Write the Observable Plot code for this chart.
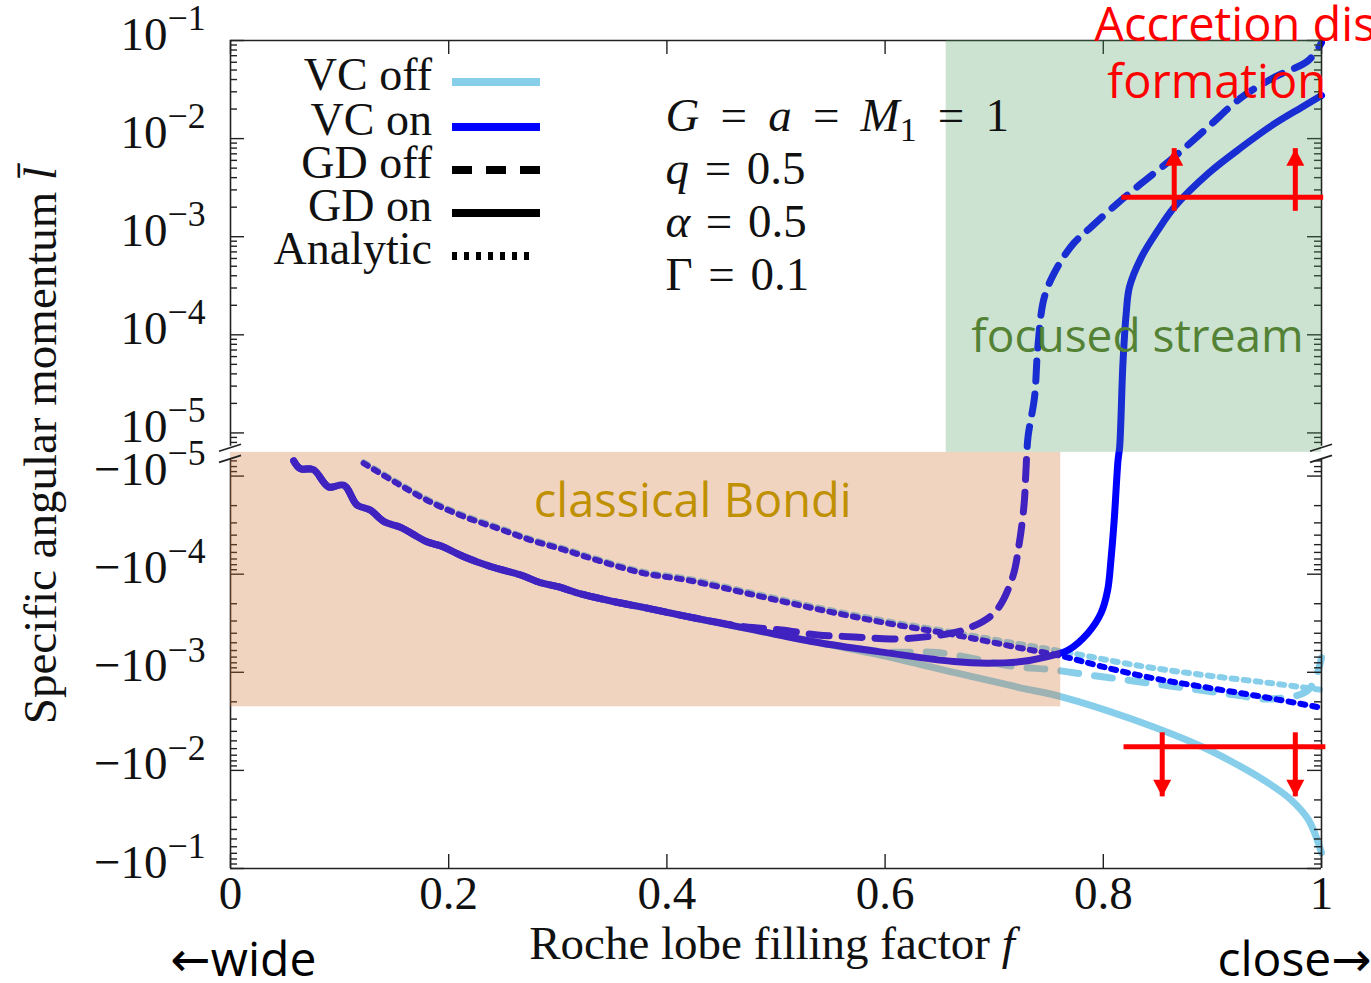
<!DOCTYPE html>
<html>
<head>
<meta charset="utf-8">
<script src="https://cdn.jsdelivr.net/npm/d3@7"></script>
<script src="https://cdn.jsdelivr.net/npm/@observablehq/plot@0.6"></script>
<style>
html,body{margin:0;padding:0;background:#fff;overflow:hidden}
#chart{width:1371px;height:983px;overflow:hidden;position:relative}
</style>
</head>
<body>
<div id="chart"></div>
<script>
// ---------------- data (f = Roche lobe filling factor, l = specific angular momentum) ----------------
const commonF = [0.058,0.064,0.076,0.090,0.104,0.116,0.128,0.141,0.156,0.180,0.193,0.214,0.239,0.266,0.284,0.300,0.321,0.352,0.382,0.419];
const commonL = [-7.0e-6,-8.4e-6,-8.6e-6,-1.29e-5,-1.24e-5,-1.97e-5,-2.22e-5,-2.92e-5,-3.33e-5,-4.67e-5,-5.16e-5,-6.64e-5,-8.4e-5,-1.02e-4,-1.22e-4,-1.34e-4,-1.59e-4,-1.91e-4,-2.22e-4,-2.71e-4];

// GD on, VC on (solid blue)
const gdOnVcOnF = [0.480,0.541,0.602,0.663,0.694,0.725,0.755,0.768,0.786,0.798,0.804,0.807,0.810,0.8135,0.815,0.818,0.821,0.824,0.835,0.850,0.865,0.896,0.927,0.957,0.982,1.000];
const gdOnVcOnL = [-3.70e-4,-5.02e-4,-6.34e-4,-7.78e-4,-8.07e-4,-7.78e-4,-6.65e-4,-5.92e-4,-3.97e-4,-2.48e-4,-1.45e-4,-7.2e-5,-2.81e-5,-6.9e-6,7.2e-6,5.1e-5,1.66e-4,3.08e-4,6.2e-4,1.16e-3,2.0e-3,4.4e-3,8.2e-3,1.42e-2,2.09e-2,2.75e-2];

// GD on, VC off (solid sky blue)
const gdOnVcOffF = [0.480,0.541,0.602,0.664,0.706,0.725,0.761,0.828,0.890,0.920,0.951,0.972,0.988,1.000];
const gdOnVcOffL = [-3.70e-4,-5.02e-4,-6.92e-4,-1.01e-3,-1.29e-3,-1.45e-3,-1.77e-3,-3.05e-3,-5.7e-3,-8.4e-3,-1.34e-2,-1.99e-2,-3.18e-2,-6.9e-2];

// GD off, VC on (dashed blue)
const gdOffVcOnF = [0.434,0.471,0.505,0.538,0.572,0.606,0.639,0.672,0.700,0.716,0.723,0.7275,0.729,0.731,0.737,0.740,0.746,0.758,0.773,0.789,0.813,0.835,0.865,0.896,0.927,0.957,0.988,1.000];
const gdOffVcOnL = [-2.92e-4,-3.43e-4,-3.70e-4,-4.16e-4,-4.36e-4,-4.57e-4,-4.33e-4,-3.70e-4,-2.48e-4,-1.15e-4,-4.81e-5,-1.88e-5,-9.3e-6,9.1e-6,2.33e-5,7.5e-5,2.43e-4,4.91e-4,8.6e-4,1.26e-3,2.19e-3,3.50e-3,6.5e-3,1.31e-2,2.65e-2,4.23e-2,6.25e-2,9.5e-2];

// GD off, VC off (dashed sky blue)
const gdOffVcOffF = [0.480,0.541,0.602,0.648,0.718,0.752,0.786,0.819,0.853,0.887,0.920,0.954,0.988,1.000];
const gdOffVcOffL = [-3.70e-4,-5.02e-4,-6.2e-4,-6.3e-4,-8.7e-4,-9.4e-4,-1.06e-3,-1.19e-3,-1.34e-3,-1.51e-3,-1.70e-3,-1.87e-3,-1.51e-3,-7.1e-4];

// Analytic, VC on (dotted blue)
const anaVcOnF = [0.122,0.153,0.183,0.214,0.245,0.275,0.306,0.336,0.379,0.419,0.480,0.541,0.602,0.664,0.725,0.764,0.798,0.844,0.890,0.951,1.000];
const anaVcOnL = [-7.4e-6,-1.19e-5,-1.83e-5,-2.59e-5,-3.41e-5,-4.49e-5,-5.66e-5,-7.2e-5,-9.8e-5,-1.15e-4,-1.63e-4,-2.31e-4,-3.16e-4,-4.16e-4,-5.69e-4,-6.92e-4,-8.7e-4,-1.14e-3,-1.40e-3,-1.82e-3,-2.30e-3];

// Analytic, VC off (dotted sky blue)
const anaVcOffF = [0.122,0.153,0.183,0.214,0.245,0.275,0.306,0.336,0.379,0.419,0.480,0.541,0.602,0.664,0.716,0.768,0.828,0.890,0.951,1.000];
const anaVcOffL = [-7.2e-6,-1.16e-5,-1.78e-5,-2.52e-5,-3.32e-5,-4.37e-5,-5.5e-5,-7.0e-5,-9.5e-5,-1.11e-4,-1.57e-4,-2.22e-4,-3.02e-4,-3.95e-4,-5.0e-4,-6.3e-4,-8.4e-4,-1.06e-3,-1.28e-3,-1.51e-3];

// shaded regimes
const streamRegionF = [0.656, 1.0];
const bondiRegionF = [0.0, 0.761];
const bondiRegionL = -2.25e-3;

// red threshold markers
const diskLineF = [0.817, 1.002], diskLineL = 2.52e-3, diskArrowF = [0.865, 0.976], diskArrowTipL = 7.9e-3;
const retroLineF = [0.819, 1.004], retroLineL = -5.75e-3, retroArrowF = [0.854, 0.976], retroArrowTipL = -1.86e-2;

// axes
const xTicks = [0, 0.2, 0.4, 0.6, 0.8, 1];
const xTickLabels = ["0", "0.2", "0.4", "0.6", "0.8", "1"];
const yMajor = [1e-1, 1e-2, 1e-3, 1e-4, 1e-5, -1e-5, -1e-4, -1e-3, -1e-2, -1e-1];
const yMajorLabels = ["10^{−1}","10^{−2}","10^{−3}","10^{−4}","10^{−5}","−10^{−5}","−10^{−4}","−10^{−3}","−10^{−2}","−10^{−1}"];
const posMin = 7.3e-6, negMin = -6.6e-6; // ends of the two broken axis pieces

const legendLabels = ["VC off", "VC on", "GD off", "GD on", "Analytic"];
const paramLines = ["*G*\u2009 = \u2009*a*\u2009 = \u2009*M*_{1}\u2009 = \u20091", "*q*\u200A = \u200A0.5", "*α*\u200A = \u200A0.5", "Γ\u200A = \u200A0.1"];

// ---------------- layout / style ----------------
const W = 1371, H = 983, ML = 230, MR = 50, MT = 40, MB = 115;
const PW = W - ML - MR, PH = H - MT - MB;
const SERIF = "'Liberation Serif','DejaVu Serif',serif";
const SANS = "'Open Sans','Noto Sans','DejaVu Sans',sans-serif";
const SKY = "#87CEEB", BLUE = "#0000FF", RED = "#FF0000";
const GAP = 0.44;
// broken log axis: positive decades on top, negative decades below
function yT(l) { return l > 0 ? Math.log10(l) : -10 - GAP - Math.log10(-l); }
const yBreak = (yT(posMin) + yT(negMin)) / 2;

const yMinor = [];
for (let d = -6; d <= -2; d++) for (let k = 2; k <= 9; k++) {
  const v = k * Math.pow(10, d);
  if (v > posMin && v < 0.1) yMinor.push(v);
  if (v > -negMin && v < 0.1) yMinor.push(-v);
}

const rows = (F, L) => F.map((f, i) => ({f, l: L[i]}));
const withCommon = (F, L) => rows([...commonF, ...F], [...commonL, ...L]);

function curve(data, stroke, dash, sw) {
  return Plot.line(data, {x: "f", y: d => yT(d.l), stroke, strokeWidth: sw, strokeDasharray: dash, strokeLinejoin: "round", curve: "catmull-rom"});
}

const tickStyle = {stroke: "#222", strokeWidth: 1.4};
const triUp = {draw(ctx) { ctx.moveTo(0, 0); ctx.lineTo(-9, 17); ctx.lineTo(9, 17); ctx.closePath(); }};
const triDown = {draw(ctx) { ctx.moveTo(0, 0); ctx.lineTo(-9, -17); ctx.lineTo(9, -17); ctx.closePath(); }};

const serifText = {fontFamily: SERIF, fontSize: 47, fill: "#111"};
const sans = (size, fill) => ({fontFamily: SANS, fontSize: size, fill});

const plot = Plot.plot({
  width: W, height: H,
  marginLeft: ML, marginRight: MR, marginTop: MT, marginBottom: MB,
  style: {background: "#fff", overflow: "hidden"},
  x: {domain: [0, 1], axis: null},
  y: {domain: [yT(-0.1), yT(0.1)], axis: null},
  marks: [
    // curves (sky blue below, blue on top)
    curve(withCommon(gdOffVcOffF, gdOffVcOffL), SKY, "18,16", 7),
    curve(rows(anaVcOffF, anaVcOffL), SKY, "5,7", 6),
    curve(withCommon(gdOnVcOffF, gdOnVcOffL), SKY, null, 7),
    curve(withCommon(gdOffVcOnF, gdOffVcOnL), BLUE, "20,13", 7),
    curve(rows(anaVcOnF, anaVcOnL), BLUE, "5,7", 6),
    curve(withCommon(gdOnVcOnF, gdOnVcOnL), BLUE, null, 7),
    // frame pieces (broken axis)
    Plot.ruleY([0.1, -0.1], {y: yT, stroke: "#222", strokeWidth: 1.6}),
    Plot.ruleX([0, 1], {x: d => d, y1: yT(posMin), y2: yT(0.1), stroke: "#222", strokeWidth: 1.6}),
    Plot.ruleX([0, 1], {x: d => d, y1: yT(-0.1), y2: yT(negMin), stroke: "#222", strokeWidth: 1.6}),
    // ticks (inward)
    Plot.ruleY(yMajor, {y: yT, insetRight: PW - 14, ...tickStyle}),
    Plot.ruleY(yMinor, {y: yT, insetRight: PW - 7, ...tickStyle}),
    Plot.ruleY(yMajor, {y: yT, insetLeft: PW - 14, ...tickStyle}),
    Plot.ruleY(yMinor, {y: yT, insetLeft: PW - 7, ...tickStyle}),
    Plot.ruleX(xTicks, {x: d => d, insetBottom: PH - 14, ...tickStyle}),
    Plot.ruleX(xTicks, {x: d => d, insetTop: PH - 14, ...tickStyle}),
    // shaded regimes (translucent, on top of lines)
    Plot.rect([streamRegionF], {x1: d => d[0], x2: d => d[1], y1: yBreak, y2: yT(0.1), fill: "#52A064", fillOpacity: 0.29}),
    Plot.rect([bondiRegionF], {x1: d => d[0], x2: d => d[1], y1: yT(bondiRegionL), y2: yBreak, fill: "#D2702D", fillOpacity: 0.3}),
    // tick labels
    Plot.text(xTicks, {x: d => d, text: (d, i) => xTickLabels[i], frameAnchor: "bottom", dy: 40, lineAnchor: "bottom", ...serifText}),
    Plot.text(yMajor, {y: yT, text: (d, i) => yMajorLabels[i], frameAnchor: "left", dx: -25, dy: 9, textAnchor: "end", lineAnchor: "bottom", ...serifText}),
    // axis titles
    Plot.text(["Roche lobe filling factor *f*"], {frameAnchor: "bottom", dx: -4, dy: 90, lineAnchor: "bottom", textAnchor: "middle", ...serifText}),
    Plot.text(["Specific angular momentum *l̄*"], {frameAnchor: "left", dx: -190, dy: -9, rotate: -90, textAnchor: "middle", lineAnchor: "middle", ...serifText}),
    Plot.text(["←wide"], {frameAnchor: "bottom-left", dx: -60, dy: 107, textAnchor: "start", lineAnchor: "bottom", ...sans(48, "#000")}),
    Plot.text(["close→"], {frameAnchor: "bottom-right", dx: 50, dy: 107, textAnchor: "end", lineAnchor: "bottom", ...sans(48, "#000")}),
    // parameters
    ...paramLines.map((t, i) => Plot.text([t], {frameAnchor: "top-left", dx: 435, dy: 90 + 53 * i, textAnchor: "start", lineAnchor: "bottom", ...serifText})),
    // regime labels
    Plot.text(["classical Bondi"], {x: 0.278, y: yT(-2.61e-5), textAnchor: "start", lineAnchor: "bottom", ...sans(47, "#BF9000")}),
    Plot.text(["focused stream"], {x: 0.679, y: yT(6.65e-5), textAnchor: "start", lineAnchor: "bottom", ...sans(46, "#548235")}),
    Plot.text(["Accretion disk"], {x: 0.7917, y: yT(0.1), textAnchor: "start", lineAnchor: "bottom", ...sans(47, RED)}),
    Plot.text(["formation"], {x: 0.8037, y: yT(2.57e-2), textAnchor: "start", lineAnchor: "bottom", ...sans(47, RED)}),
    // red threshold markers
    Plot.ruleY([diskLineL], {y: yT, x1: diskLineF[0], x2: diskLineF[1], stroke: RED, strokeWidth: 5}),
    Plot.ruleX(diskArrowF, {x: d => d, y1: yT(diskLineL), y2: yT(diskArrowTipL), insetTop: 14, stroke: RED, strokeWidth: 5}),
    Plot.dot(diskArrowF, {x: d => d, y: yT(diskArrowTipL), symbol: triUp, r: 8, fill: RED, stroke: "none"}),
    Plot.ruleY([retroLineL], {y: yT, x1: retroLineF[0], x2: retroLineF[1], stroke: RED, strokeWidth: 5}),
    Plot.ruleX(retroArrowF, {x: d => d, y1: yT(retroArrowTipL), y2: yT(retroLineL), insetBottom: 14, stroke: RED, strokeWidth: 5}),
    Plot.dot(retroArrowF, {x: d => d, y: yT(retroArrowTipL), symbol: triDown, r: 8, fill: RED, stroke: "none"})
  ]
});

document.getElementById("chart").appendChild(plot);

// ---- legend and axis-break marks, placed with the plot's own scales ----
const sx = plot.scale("x").apply, sy = plot.scale("y").apply;
const svg = d3.select(plot);
const lg = svg.append("g");
const legendStyles = [
  {stroke: SKY, dash: null}, {stroke: BLUE, dash: null}, {stroke: "#000", dash: "20,14"},
  {stroke: "#000", dash: null}, {stroke: "#000", dash: "5,7"}
];
const legendBase = [90, 135, 178, 221, 264];
legendLabels.forEach((lab, i) => {
  lg.append("text").attr("x", ML + 202).attr("y", legendBase[i]).attr("text-anchor", "end")
    .attr("font-family", SERIF).attr("font-size", 46).attr("fill", "#111").text(lab);
  lg.append("line").attr("x1", ML + 222).attr("x2", ML + (i === 4 ? 306 : 310))
    .attr("y1", legendBase[i] - 8).attr("y2", legendBase[i] - 8)
    .attr("stroke", legendStyles[i].stroke).attr("stroke-width", 8)
    .attr("stroke-dasharray", legendStyles[i].dash);
});
const bg = svg.append("g").attr("stroke", "#222").attr("stroke-width", 1.6);
[sx(0), sx(1)].forEach(x0 => {
  [sy(yT(posMin)) + 2, sy(yT(negMin)) + 1].forEach(yy => {
    bg.append("line").attr("x1", x0 - 11).attr("x2", x0 + 11).attr("y1", yy + 3.5).attr("y2", yy - 3.5);
  });
});

// ---- rich text: *italic*, ^{sup}, _{sub} ----
plot.querySelectorAll("text").forEach(t => {
  const s = t.textContent;
  if (!/[\^_*]/.test(s)) return;
  const fs = parseFloat(getComputedStyle(t).fontSize) || 47;
  while (t.firstChild) t.removeChild(t.firstChild);
  const re = /\^\{([^}]*)\}|_\{([^}]*)\}|\*([^*]*)\*|([^\^_*]+)/g;
  let m, cur = 0;
  while ((m = re.exec(s))) {
    const ts = document.createElementNS("http://www.w3.org/2000/svg", "tspan");
    let target = 0, txt, size = null, italic = false;
    if (m[1] !== undefined) { txt = m[1]; target = -0.42 * fs; size = 0.76 * fs; }
    else if (m[2] !== undefined) { txt = m[2]; target = 0.22 * fs; size = 0.72 * fs; }
    else if (m[3] !== undefined) { txt = m[3]; italic = true; }
    else txt = m[4];
    if (target !== cur) ts.setAttribute("dy", target - cur);
    cur = target;
    if (size) ts.setAttribute("font-size", size);
    if (italic) ts.setAttribute("font-style", "italic");
    ts.textContent = txt;
    t.appendChild(ts);
  }
});
</script>
</body>
</html>
